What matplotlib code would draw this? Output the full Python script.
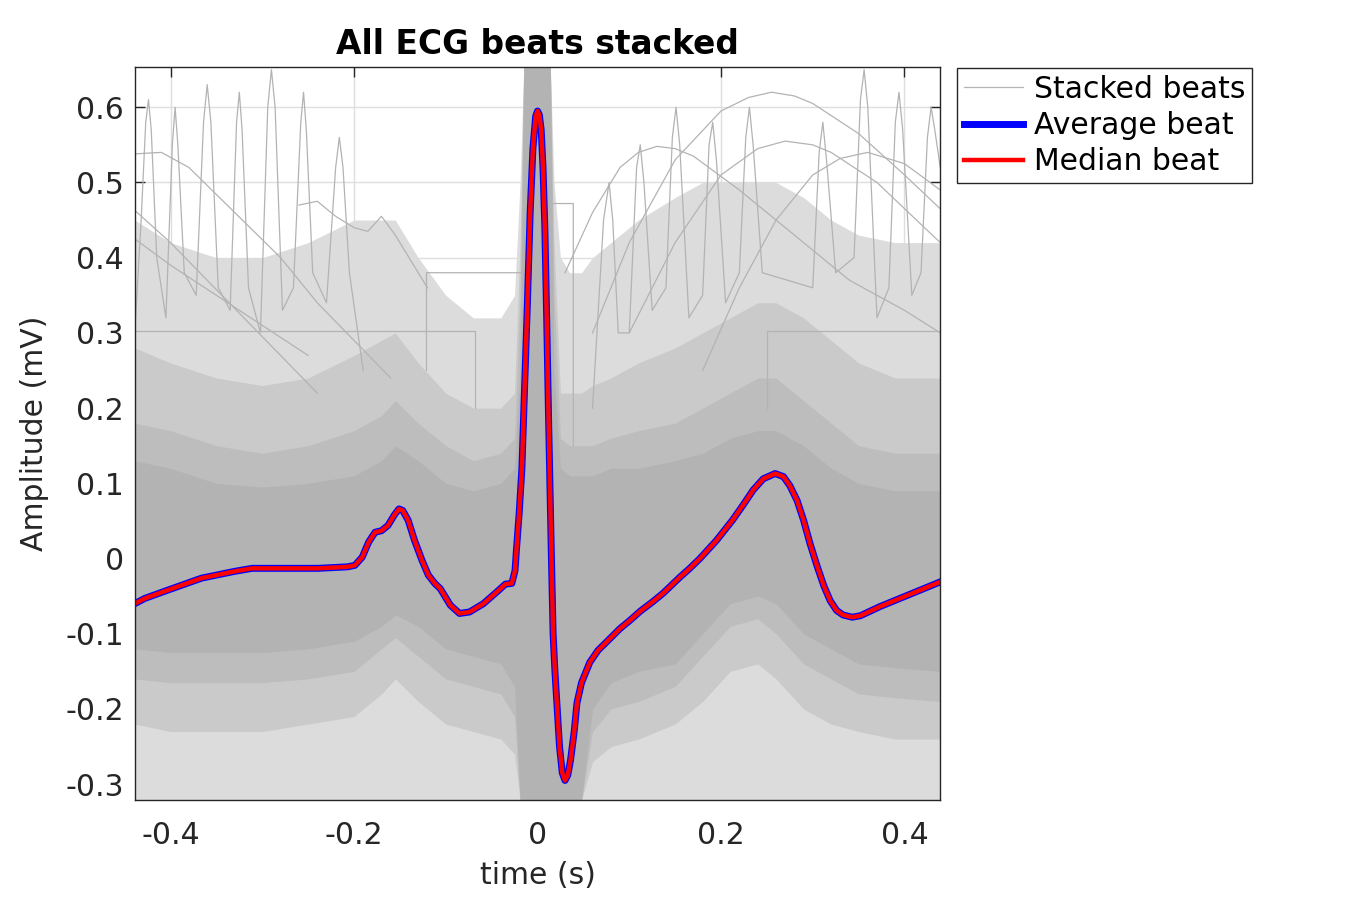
import numpy as np
import matplotlib
matplotlib.use("Agg")
import matplotlib.pyplot as plt

plt.rcParams["font.family"] = ["DejaVu Sans"]
plt.rcParams["axes.unicode_minus"] = False

# ---- average / median beat ----
beat_t = [-0.439, -0.428, -0.403, -0.366, -0.330, -0.311, -0.275, -0.239, -0.207, -0.199,
          -0.191, -0.184, -0.177, -0.170, -0.163, -0.156, -0.151, -0.147, -0.141, -0.134,
          -0.126, -0.119, -0.112, -0.106, -0.095, -0.085, -0.074, -0.059, -0.044, -0.035,
          -0.028, -0.0245, -0.023, -0.020, -0.017, -0.014, -0.011, -0.008, -0.005, -0.002,
          0.000, 0.002, 0.004, 0.006, 0.008, 0.010, 0.012, 0.015, 0.017, 0.019,
          0.021, 0.024, 0.027, 0.030, 0.033, 0.036, 0.040, 0.043, 0.048, 0.057,
          0.066, 0.076, 0.090, 0.100, 0.112, 0.125, 0.137, 0.155, 0.166, 0.177,
          0.195, 0.2125, 0.224, 0.235, 0.246, 0.259, 0.268, 0.275, 0.283, 0.290,
          0.297, 0.305, 0.312, 0.319, 0.326, 0.333, 0.343, 0.352, 0.373, 0.395,
          0.417, 0.439]
avg_beat = [-0.060, -0.053, -0.042, -0.026, -0.017, -0.013, -0.013, -0.013, -0.011, -0.009,
            0.002, 0.022, 0.035, 0.037, 0.044, 0.058, 0.066, 0.064, 0.051, 0.024,
            -0.002, -0.022, -0.033, -0.040, -0.062, -0.073, -0.071, -0.060, -0.044, -0.034,
            -0.033, -0.016, 0.011, 0.060, 0.120, 0.230, 0.340, 0.460, 0.545, 0.588,
            0.595, 0.590, 0.570, 0.520, 0.440, 0.320, 0.190, 0.011, -0.100, -0.150,
            -0.190, -0.250, -0.285, -0.295, -0.288, -0.268, -0.230, -0.192, -0.165, -0.138,
            -0.122, -0.110, -0.093, -0.083, -0.070, -0.058, -0.046, -0.025, -0.013, 0.000,
            0.024, 0.051, 0.071, 0.091, 0.106, 0.113, 0.109, 0.097, 0.077, 0.051,
            0.020, -0.011, -0.036, -0.056, -0.069, -0.075, -0.078, -0.076, -0.064, -0.053,
            -0.042, -0.031]
median_beat = avg_beat

# ---- stacked beats: density envelopes of the grey cloud ----
env_t = [-0.439, -0.40, -0.35, -0.30, -0.25, -0.20, -0.17, -0.155, -0.13, -0.10,
         -0.07, -0.04, -0.025, -0.019, -0.015, 0.014, 0.018, 0.025, 0.035, 0.048,
         0.06, 0.08, 0.11, 0.15, 0.18, 0.21, 0.24, 0.26, 0.29, 0.32,
         0.35, 0.39, 0.439]
core_hi = [0.13, 0.12, 0.10, 0.095, 0.10, 0.11, 0.13, 0.15, 0.13, 0.10,
           0.09, 0.10, 0.12, 0.25, 0.653, 0.653, 0.25, 0.12, 0.11, 0.11,
           0.11, 0.12, 0.12, 0.13, 0.14, 0.16, 0.17, 0.17, 0.15, 0.12,
           0.10, 0.09, 0.09]
core_lo = [-0.12, -0.125, -0.125, -0.125, -0.12, -0.11, -0.09, -0.075, -0.09, -0.12,
           -0.13, -0.14, -0.17, -0.321, -0.321, -0.321, -0.321, -0.321, -0.321, -0.321,
           -0.20, -0.165, -0.15, -0.14, -0.10, -0.06, -0.05, -0.06, -0.10, -0.12,
           -0.14, -0.145, -0.15]
dense_hi = [0.18, 0.17, 0.15, 0.14, 0.15, 0.17, 0.19, 0.21, 0.18, 0.15,
            0.13, 0.14, 0.16, 0.35, 0.653, 0.653, 0.35, 0.16, 0.15, 0.15,
            0.15, 0.16, 0.17, 0.18, 0.20, 0.22, 0.24, 0.24, 0.21, 0.18,
            0.15, 0.14, 0.14]
dense_lo = [-0.16, -0.165, -0.165, -0.165, -0.16, -0.15, -0.12, -0.105, -0.13, -0.16,
            -0.17, -0.18, -0.21, -0.321, -0.321, -0.321, -0.321, -0.321, -0.321, -0.321,
            -0.23, -0.20, -0.19, -0.17, -0.13, -0.09, -0.08, -0.10, -0.14, -0.16,
            -0.18, -0.185, -0.19]
mid_hi = [0.28, 0.26, 0.24, 0.23, 0.24, 0.27, 0.29, 0.30, 0.26, 0.22,
          0.20, 0.20, 0.22, 0.42, 0.653, 0.653, 0.42, 0.22, 0.22, 0.22,
          0.23, 0.24, 0.26, 0.28, 0.30, 0.32, 0.34, 0.34, 0.32, 0.29,
          0.26, 0.24, 0.24]
mid_lo = [-0.22, -0.23, -0.23, -0.23, -0.22, -0.21, -0.18, -0.16, -0.19, -0.22,
          -0.23, -0.24, -0.26, -0.321, -0.321, -0.321, -0.321, -0.321, -0.321, -0.321,
          -0.27, -0.25, -0.24, -0.22, -0.19, -0.15, -0.14, -0.16, -0.20, -0.22,
          -0.23, -0.24, -0.24]
outer_hi = [0.45, 0.42, 0.40, 0.40, 0.42, 0.45, 0.45, 0.45, 0.40, 0.35,
            0.32, 0.32, 0.35, 0.50, 0.653, 0.653, 0.50, 0.40, 0.38, 0.38,
            0.40, 0.42, 0.45, 0.48, 0.50, 0.50, 0.50, 0.50, 0.48, 0.45,
            0.43, 0.42, 0.42]
outer_lo = -0.321

# ---- a few individual outlier beats that stand out ----
arc1_t = [0.06, 0.10, 0.15, 0.20, 0.23, 0.255, 0.28, 0.30, 0.35, 0.40, 0.439]
arc1_v = [0.30, 0.42, 0.53, 0.595, 0.613, 0.620, 0.615, 0.605, 0.565, 0.51, 0.465]
arc2_t = [0.10, 0.15, 0.20, 0.24, 0.27, 0.30, 0.32, 0.37, 0.439]
arc2_v = [0.30, 0.42, 0.51, 0.545, 0.555, 0.550, 0.54, 0.50, 0.42]
arc3_t = [0.18, 0.22, 0.26, 0.30, 0.33, 0.36, 0.40, 0.439]
arc3_v = [0.25, 0.36, 0.45, 0.51, 0.532, 0.54, 0.525, 0.49]
arc4_t = [0.03, 0.06, 0.09, 0.11, 0.13, 0.15, 0.17, 0.22, 0.28, 0.34, 0.40, 0.439]
arc4_v = [0.38, 0.46, 0.52, 0.540, 0.548, 0.545, 0.535, 0.49, 0.43, 0.37, 0.33, 0.30]
line1_t = [-0.439, -0.41, -0.38, -0.33, -0.28, -0.24, -0.20, -0.16]
line1_v = [0.538, 0.54, 0.52, 0.46, 0.40, 0.34, 0.29, 0.24]
line2_t = [-0.439, -0.40, -0.36, -0.32, -0.28, -0.24]
line2_v = [0.463, 0.42, 0.37, 0.32, 0.27, 0.22]
line3_t = [-0.439, -0.40, -0.35, -0.30, -0.25]
line3_v = [0.425, 0.39, 0.35, 0.31, 0.27]
step1_t = [-0.439, -0.068, -0.068]
step1_v = [0.303, 0.303, 0.20]
step2_t = [0.25, 0.25, 0.439]
step2_v = [0.20, 0.303, 0.303]
step3_t = [-0.121, -0.121, -0.013, -0.005, 0.014, 0.039, 0.039]
step3_v = [0.25, 0.38, 0.38, 0.65, 0.472, 0.472, 0.15]
wig_t = [-0.26, -0.24, -0.22, -0.20, -0.185, -0.17, -0.155, -0.14, -0.12]
wig_v = [0.47, 0.475, 0.455, 0.44, 0.435, 0.455, 0.43, 0.40, 0.36]
spk1_t = [-0.439, -0.432, -0.427, -0.424, -0.421, -0.415, -0.405, -0.398, -0.395, -0.392,
          -0.385, -0.372, -0.364, -0.360, -0.356, -0.348, -0.335, -0.328, -0.325, -0.322,
          -0.315, -0.302, -0.294, -0.290, -0.286, -0.278, -0.266, -0.258, -0.255, -0.252,
          -0.245, -0.230, -0.220, -0.216, -0.212, -0.205, -0.19]
spk1_v = [0.30, 0.45, 0.58, 0.61, 0.57, 0.40, 0.32, 0.55, 0.60, 0.55,
          0.38, 0.35, 0.58, 0.63, 0.58, 0.36, 0.33, 0.58, 0.62, 0.57,
          0.36, 0.30, 0.60, 0.65, 0.60, 0.33, 0.36, 0.58, 0.62, 0.57,
          0.38, 0.34, 0.52, 0.56, 0.52, 0.38, 0.25]
spk2_t = [0.060, 0.072, 0.078, 0.082, 0.088, 0.100, 0.108, 0.112, 0.116, 0.125,
          0.140, 0.147, 0.151, 0.155, 0.165, 0.180, 0.187, 0.191, 0.195, 0.205,
          0.220, 0.227, 0.231, 0.235, 0.245, 0.300, 0.307, 0.311, 0.315, 0.325,
          0.345, 0.352, 0.356, 0.360, 0.370, 0.383, 0.390, 0.394, 0.398, 0.408,
          0.418, 0.425, 0.429, 0.433, 0.439]
spk2_v = [0.20, 0.45, 0.50, 0.45, 0.30, 0.30, 0.52, 0.55, 0.50, 0.33,
          0.36, 0.56, 0.60, 0.55, 0.32, 0.35, 0.55, 0.58, 0.53, 0.34,
          0.38, 0.56, 0.60, 0.55, 0.38, 0.36, 0.54, 0.58, 0.53, 0.38,
          0.40, 0.61, 0.65, 0.60, 0.32, 0.36, 0.58, 0.62, 0.57, 0.35,
          0.38, 0.56, 0.60, 0.57, 0.52]

x_ticks = [-0.4, -0.2, 0, 0.2, 0.4]
x_ticklabels = ["-0.4", "-0.2", "0", "0.2", "0.4"]
y_ticks = [-0.3, -0.2, -0.1, 0, 0.1, 0.2, 0.3, 0.4, 0.5, 0.6]
y_ticklabels = ["-0.3", "-0.2", "-0.1", "0", "0.1", "0.2", "0.3", "0.4", "0.5", "0.6"]

grey = "#b3b3b3"
txt = "#262626"
fs = 21.5

fig = plt.figure(figsize=(13.5, 9), dpi=100)
ax = fig.add_axes([135 / 1350, 1 - 800 / 900, 805 / 1350, 733 / 900])

# grey cloud of stacked beats (denser towards the average)
ax.fill_between(env_t, outer_lo, outer_hi, color="#dcdcdc", lw=0, zorder=1)
ax.fill_between(env_t, mid_lo, mid_hi, color="#cacaca", lw=0, zorder=1.1)
ax.fill_between(env_t, dense_lo, dense_hi, color="#bdbdbd", lw=0, zorder=1.15)
ax.fill_between(env_t, core_lo, core_hi, color=grey, lw=0, zorder=1.2)

outliers = [(arc1_t, arc1_v), (arc2_t, arc2_v), (arc3_t, arc3_v), (arc4_t, arc4_v),
            (line1_t, line1_v), (line2_t, line2_v), (line3_t, line3_v),
            (step1_t, step1_v), (step2_t, step2_v), (step3_t, step3_v),
            (wig_t, wig_v), (spk1_t, spk1_v), (spk2_t, spk2_v)]
for i, (tt, vv) in enumerate(outliers):
    ax.plot(tt, vv, color=grey, lw=0.9, zorder=1.3,
            label="Stacked beats" if i == 0 else None)

ax.plot(beat_t, avg_beat, color="blue", lw=5, zorder=3, label="Average beat",
        solid_joinstyle="round")
ax.plot(beat_t, median_beat, color="red", lw=3.2, zorder=4, label="Median beat",
        solid_joinstyle="round")

ax.set_xlim(-0.4387, 0.4387)
ax.set_ylim(-0.321, 0.6535)
ax.set_xticks(x_ticks)
ax.set_xticklabels(x_ticklabels)
ax.set_yticks(y_ticks)
ax.set_yticklabels(y_ticklabels)
ax.grid(True, color="#dedede", lw=1)
ax.set_axisbelow(True)
ax.tick_params(direction="in", length=7, width=1, top=True, right=True,
               labelsize=fs, colors=txt)
ax.tick_params(axis="x", pad=15)
ax.tick_params(axis="y", pad=8)
for s in ax.spines.values():
    s.set_color(txt)
    s.set_linewidth(1)
    s.set_zorder(5)

ax.set_xlabel("time (s)", fontsize=fs, color=txt, labelpad=8)
ax.set_ylabel("Amplitude (mV)", fontsize=fs, color=txt, labelpad=12)
ax.set_title("All ECG beats stacked", fontsize=23.7, fontweight="bold", color="black", pad=9)

leg = ax.legend(loc="upper left", bbox_to_anchor=(957 / 1350, 1 - 68 / 900),
                bbox_transform=fig.transFigure, borderaxespad=0, fontsize=fs,
                fancybox=False, framealpha=1, edgecolor=txt, handlelength=2.0,
                handletextpad=0.35, labelspacing=0.25, borderpad=0.22)
leg.get_frame().set_linewidth(1)

fig.savefig("out.png", dpi=100)
